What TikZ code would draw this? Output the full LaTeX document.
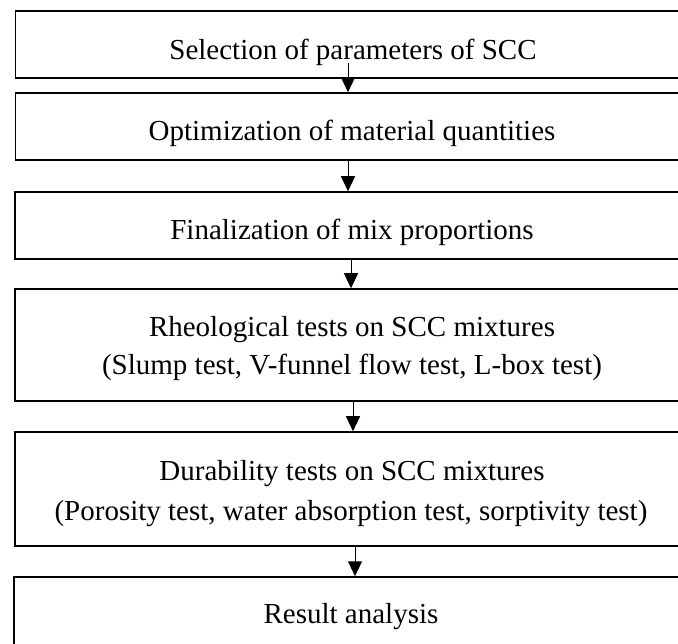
\documentclass[tikz,border=0pt]{standalone}
\usepackage{fontspec}
\setmainfont{Liberation Serif}
\usetikzlibrary{arrows.meta,positioning}
\tikzset{
  stage/.style   = {draw, rectangle, line width=1.5pt, minimum width=674pt,
                    inner sep=0pt},
  caption/.style = {font=\fontsize{29}{34}\selectfont, anchor=base,
                    inner sep=0pt},
  flow/.style    = {-{Triangle[length=15pt,width=14pt]}, line width=1pt}
}

\begin{document}
\begin{tikzpicture}[x=1pt,y=-1pt]

\clip (0,0) rectangle (678,644);
\fill[white] (0,0) rectangle (678,644);

% boxes of the flow chart
\node[stage, minimum height=67pt]  (select) at (352.5,44.5) {};
\node[stage, minimum height=67pt]  (optim)  at (352.5,126.5) {};
\node[stage, minimum height=67pt]  (final)  at (352,225.5) {};
\node[stage, minimum height=112pt] (rheo)   at (352,345) {};
\node[stage, minimum height=114pt] (dura)   at (352,489) {};
\node[stage, minimum height=90pt]  (result) at (351,622) {};

% texts
\node[caption] (selecttext) at (353,60)  {Selection of parameters of SCC};
\node[caption] (optimtext)  at (352,141) {Optimization of material quantities};
\node[caption] (finaltext)  at (352,240) {Finalization of mix proportions};
\node[caption] (rheotext)   at (352,337) {Rheological tests on SCC mixtures};
\node[caption] (rheolist)   at (352,375) {(Slump test, V-funnel flow test, L-box test)};
\node[caption] (duratext)   at (352,481) {Durability tests on SCC mixtures};
\node[caption] (duralist)   at (351,520) {(Porosity test, water absorption test, sorptivity test)};
\node[caption] (resulttext) at (351,623) {Result analysis};

% arrows
\draw[flow] ([xshift=-4.5pt,yshift=16pt]select.south) -- ([xshift=-4.5pt]select.south |- optim.north);
\draw[flow] ([xshift=-4.5pt]optim.south) -- ([xshift=-4.5pt]optim.south |- final.north);
\draw[flow] ([xshift=-1pt]final.south) -- ([xshift=-1pt]final.south |- rheo.north);
\draw[flow] ([xshift=1pt]rheo.south) -- ([xshift=1pt]rheo.south |- dura.north);
\draw[flow] ([xshift=3pt]dura.south) -- ([xshift=3pt]dura.south |- result.north);

\end{tikzpicture}
\end{document}
